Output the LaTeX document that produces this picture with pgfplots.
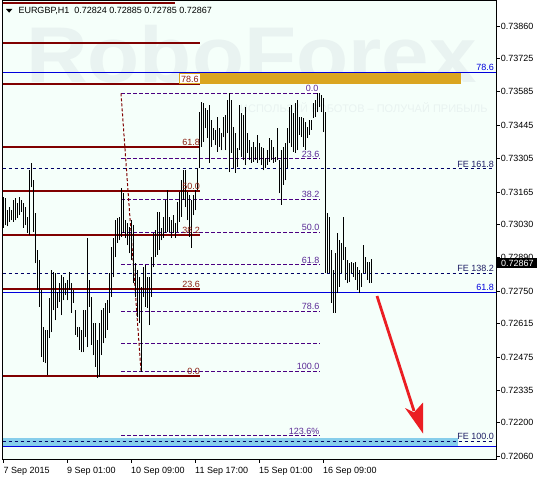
\documentclass[border=0pt]{standalone}
\usepackage{pgfplots}
\pgfplotsset{compat=1.18}
\usepackage{pgfplotstable}
\usepackage{fontspec}
\setmainfont{Liberation Sans}

\definecolor{mint}{HTML}{F5FFFA}
\definecolor{lvmaroon}{HTML}{800000}
\definecolor{lvtext}{HTML}{8B1E10}
\definecolor{fibo}{HTML}{4B0082}
\definecolor{fibotext}{HTML}{5A2A96}
\definecolor{fe}{HTML}{000066}
\definecolor{fetext}{HTML}{1E1E64}
\definecolor{blv}{HTML}{0000DD}
\definecolor{gold}{HTML}{DAA520}
\definecolor{sky}{HTML}{87CEEB}
\definecolor{wm}{HTML}{E9F3F1}
\definecolor{arrowred}{HTML}{EB1E23}

% H1 bars: x position (px), low, high
\pgfplotstableread{
x lo hi
3 0.73015 0.73144
5 0.73027 0.73140
7 0.73023 0.73090
9 0.73040 0.73102
11 0.73048 0.73090
13 0.73040 0.73132
15 0.73048 0.73140
17 0.73056 0.73119
19 0.73069 0.73144
21 0.73082 0.73132
23 0.73015 0.73119
25 0.73027 0.73102
27 0.72994 0.73061
29 0.72985 0.73257
31 0.73186 0.73287
33 0.72998 0.73215
35 0.72868 0.73077
37 0.72755 0.72923
39 0.72684 0.72881
41 0.72475 0.72755
43 0.72454 0.72600
45 0.72449 0.72588
47 0.72399 0.72588
49 0.72554 0.72722
51 0.72579 0.72839
53 0.72671 0.72830
55 0.72629 0.72826
57 0.72680 0.72747
59 0.72705 0.72784
61 0.72650 0.72818
63 0.72713 0.72809
65 0.72734 0.72784
67 0.72713 0.72797
69 0.72755 0.72830
71 0.72659 0.72784
73 0.72701 0.72755
75 0.72567 0.72671
77 0.72558 0.72600
79 0.72504 0.72600
81 0.72495 0.72588
83 0.72495 0.72671
85 0.72558 0.72671
87 0.72516 0.72973
89 0.72684 0.72797
91 0.72525 0.72726
93 0.72483 0.72617
95 0.72433 0.72617
97 0.72387 0.72546
99 0.72391 0.72617
101 0.72483 0.72671
103 0.72533 0.72680
105 0.72554 0.72701
107 0.72588 0.72713
109 0.72659 0.72826
111 0.72726 0.72935
113 0.72809 0.72973
115 0.72893 0.73048
117 0.72952 0.73056
119 0.72964 0.73061
121 0.72977 0.73182
123 0.72994 0.73161
125 0.72973 0.73048
127 0.72943 0.73036
129 0.72910 0.73019
131 0.72881 0.73048
133 0.72784 0.73027
135 0.72726 0.72868
137 0.72642 0.72839
139 0.72617 0.72809
141 0.72412 0.72768
143 0.72726 0.72851
145 0.72684 0.72860
147 0.72680 0.72809
149 0.72608 0.72809
151 0.72726 0.72893
153 0.72851 0.72994
155 0.72893 0.73006
157 0.72902 0.73082
159 0.72923 0.73082
161 0.72964 0.73015
163 0.72973 0.73061
165 0.72994 0.73132
167 0.72998 0.73174
169 0.72998 0.73061
171 0.72973 0.73048
173 0.72994 0.73069
175 0.72973 0.73036
177 0.72998 0.73123
179 0.73040 0.73165
181 0.73061 0.73215
183 0.73132 0.73257
185 0.73102 0.73257
187 0.73048 0.73165
189 0.72977 0.73153
191 0.72931 0.73132
193 0.73069 0.73153
195 0.73090 0.73174
197 0.73174 0.73266
199 0.73266 0.73500
201 0.73354 0.73542
203 0.73375 0.73538
205 0.73433 0.73517
207 0.73391 0.73509
209 0.73287 0.73529
211 0.73354 0.73467
213 0.73383 0.73433
215 0.73362 0.73425
217 0.73333 0.73479
219 0.73354 0.73433
221 0.73341 0.73412
223 0.73395 0.73479
225 0.73341 0.73488
227 0.73412 0.73550
229 0.73249 0.73580
231 0.73329 0.73550
233 0.73266 0.73437
235 0.73245 0.73412
237 0.73270 0.73349
239 0.73341 0.73529
241 0.73312 0.73496
243 0.73299 0.73488
245 0.73278 0.73521
247 0.73329 0.73412
249 0.73299 0.73383
251 0.73287 0.73354
253 0.73291 0.73375
255 0.73299 0.73354
257 0.73287 0.73404
259 0.73299 0.73370
261 0.73278 0.73354
263 0.73257 0.73349
265 0.73266 0.73308
267 0.73278 0.73341
269 0.73291 0.73391
271 0.73299 0.73383
273 0.73287 0.73354
275 0.73291 0.73312
277 0.73299 0.73433
279 0.73161 0.73299
281 0.73111 0.73341
283 0.73195 0.73354
285 0.73215 0.73370
287 0.73266 0.73433
289 0.73370 0.73521
291 0.73354 0.73529
293 0.73333 0.73496
295 0.73329 0.73538
297 0.73341 0.73550
299 0.73404 0.73479
301 0.73395 0.73479
303 0.73354 0.73475
305 0.73341 0.73458
307 0.73391 0.73437
309 0.73404 0.73467
311 0.73425 0.73467
313 0.73475 0.73538
315 0.73479 0.73550
317 0.73500 0.73580
319 0.73521 0.73580
321 0.73500 0.73571
323 0.73416 0.73559
325 0.72826 0.73500
327 0.72826 0.73077
329 0.72826 0.73061
331 0.72701 0.72923
333 0.72659 0.72839
335 0.72659 0.72910
337 0.72742 0.72994
339 0.72768 0.72964
341 0.72826 0.72952
343 0.72881 0.73061
345 0.72797 0.72935
347 0.72784 0.72881
349 0.72788 0.72868
351 0.72826 0.72872
353 0.72809 0.72868
355 0.72797 0.72872
357 0.72755 0.72851
359 0.72742 0.72839
361 0.72768 0.72826
363 0.72826 0.72943
365 0.72826 0.72893
367 0.72797 0.72872
369 0.72784 0.72872
371 0.72785 0.72885
}\bars

% horizontal level: style, x from, x to, price
\newcommand\hl[4]{\draw[#1] (axis cs:#2,#4) -- (axis cs:#3,#4);}

\begin{document}
\begin{tikzpicture}[font=\fontsize{9}{10}\selectfont]
\fill[white] (-2.5pt,-17.7pt) rectangle (534.5pt,459.3pt);
\begin{axis}[
  at={(0,0)}, anchor=south west, scale only axis,
  width=493.5pt, height=458.8pt,
  xmin=2.5, xmax=496, ymin=0.720464, ymax=0.739670,
  axis background/.style={fill=mint},
  axis line style={black, line width=0.8pt},
  clip=false,
  xtick={3.5,67,131,195,259,323}, xticklabel=\empty,
  ytick={0.72060,0.72200,0.72335,0.72475,0.72615,0.72750,0.72890,0.73030,0.73165,0.73305,0.73445,0.73585,0.73725,0.73860},
  yticklabel=\empty,
  xtick pos=left, ytick pos=right,
  tick align=outside, major tick length=3.5pt,
  tick style={black, line width=0.8pt},
]
% watermark
\node[anchor=base west, inner sep=0, text=wm, xscale=1.08,
  font=\fontsize{79}{80}\selectfont\bfseries] at (axis cs:26,0.73622) {RoboForex};
\node[anchor=base west, inner sep=0, text=wm,
  font=\fontsize{11}{12}\selectfont] at (axis cs:240,0.73500) {ИСПОЛЬЗУЙ РОБОТОВ – ПОЛУЧАЙ ПРИБЫЛЬ};

% zones
\fill[gold] (axis cs:200,0.73616) rectangle (axis cs:461,0.73664);
\fill[sky] (axis cs:2.5,0.72102) rectangle (axis cs:458,0.72136);

% support / resistance levels
\hl{lvmaroon, line width=2pt}{2.5}{175}{0.73958}
\hl{lvmaroon, line width=2pt}{2.5}{200}{0.73790}
\hl{lvmaroon, line width=2pt}{2.5}{200}{0.73616}
\hl{lvmaroon, line width=2pt}{2.5}{200}{0.73355}
\hl{lvmaroon, line width=2pt}{2.5}{200}{0.73171}
\hl{lvmaroon, line width=2pt}{2.5}{200}{0.72985}
\hl{lvmaroon, line width=2pt}{2.5}{200}{0.72760}
\hl{lvmaroon, line width=2pt}{2.5}{200}{0.72395}

% fibo retracement
\pgfplotsinvokeforeach{0.73578,0.73304,0.73134,0.72997,0.72860,0.72665,0.72533,0.72416,0.72144}{
  \hl{fibo, line width=1pt, dash pattern=on 4pt off 2pt}{121}{320}{#1}
}
\draw[lvmaroon, line width=1pt, dash pattern=on 3pt off 2pt] (axis cs:121,0.73578) -- (axis cs:141,0.72416);

% fibo expansion
\pgfplotsinvokeforeach{0.73262,0.72826,0.72121}{
  \hl{fe, line width=1pt, dash pattern=on 3pt off 3pt}{2.5}{494}{#1}
}

% blue levels
\hl{blv, line width=1pt}{2.5}{496}{0.73666}
\hl{blv, line width=1pt}{2.5}{496}{0.72745}
\hl{blv, line width=1pt}{2.5}{496}{0.72102}

% price bars
\addplot[black, only marks, mark=none, mark size=0pt,
  mark options={draw=none, fill=none},
  error bars/.cd, y dir=plus, y explicit, error mark=none,
  error bar style={draw=black, line width=1pt}]
  table[x=x, y=lo, y error plus expr={\thisrow{hi}-\thisrow{lo}}] {\bars};

% price scale labels
\pgfplotsinvokeforeach{0.72060,0.72200,0.72335,0.72475,0.72615,0.72750,0.72890,0.73030,0.73165,0.73305,0.73445,0.73585,0.73725,0.73860}{
  \node[anchor=west, inner sep=0] at (axis cs:500.7,#1) {#1};
}
\end{axis}

\begin{scope}[shift={(-2.5pt,459.3pt)}, x=1pt, y=-1pt]
% title
\fill[black] (6,9) -- (12.3,9) -- (9.15,12.7) -- cycle;
\node[anchor=base west, inner sep=0] at (18.3,14) {EURGBP,H1\ \ 0.72824 0.72885 0.72785 0.72867};

% maroon labels
\filldraw[fill=white, draw=gold, line width=1pt] (179,73.3) rectangle (200.5,84);
\node[anchor=base, inner sep=0, text=lvtext] at (189.8,82.5) {78.6};
\foreach \t/\y in {61.8/145.5, 50.0/189.5, 38.2/233.5, 23.6/287.5, 0.0/374.5}
  \node[anchor=base east, inner sep=0, text=lvtext] at (200,\y) {\t};

% fibo labels
\node[anchor=base east, inner sep=0.5pt, fill=white, text=fibotext] at (319,92) {0.0};
\foreach \t/\y in {23.6/157.5, 38.2/197.5, 50.0/230.5, 61.8/263.5, 78.6/309, 100.0/369}
  \node[anchor=base east, inner sep=0, text=fibotext] at (319.5,\y) {\t};
\node[anchor=base east, inner sep=0, text=fibotext] at (319.5,434) {123.6\%};

% expansion labels
\node[anchor=base east, inner sep=0, text=fetext] at (494,167.5) {FE 161.8};
\node[anchor=base east, inner sep=0, text=fetext] at (494,271.5) {FE 138.2};
\node[anchor=base east, inner sep=0, text=fetext] at (494,439.5) {FE 100.0};

% blue labels
\node[anchor=base east, inner sep=0, text=blv] at (494,70.3) {78.6};
\node[anchor=base east, inner sep=0, text=blv] at (494,290) {61.8};

% forecast arrow
\draw[arrowred, line width=2.8pt] (377,296) -- (414,411);
\fill[arrowred] (423,433.5) -- (405,408) -- (414,412.5) -- (423,402.5) -- cycle;

% current price
\fill[black] (497,258.3) rectangle (537,268.3);
\node[anchor=west, inner sep=0, text=white] at (501,263.3) {0.72867};

% time labels
\foreach \t/\x in {7 Sep 2015/3.5, 9 Sep 01:00/67, 10 Sep 09:00/131, 11 Sep 17:00/195, 15 Sep 01:00/259, 16 Sep 09:00/323}
  \node[anchor=base west, inner sep=0] at (\x,473.5) {\t};
\end{scope}

\pgfresetboundingbox
\path[use as bounding box] (-2.5pt,-17.7pt) rectangle (534.5pt,459.3pt);
\end{tikzpicture}
\end{document}
